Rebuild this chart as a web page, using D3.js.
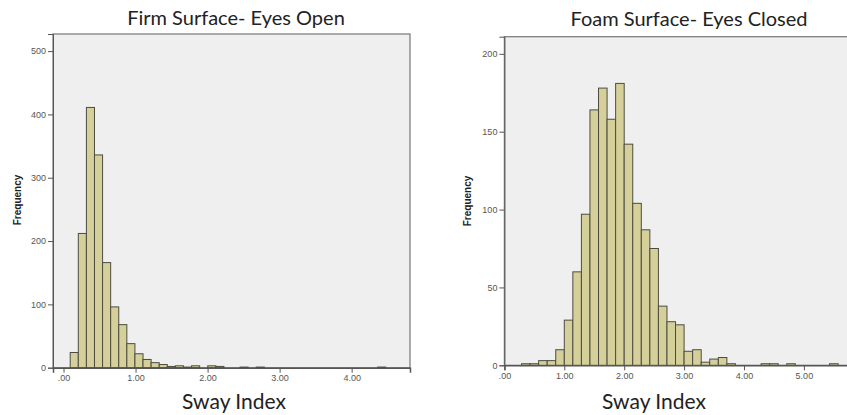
<!DOCTYPE html>
<html>
<head>
<meta charset="utf-8">
<script src="https://cdn.jsdelivr.net/npm/d3@7"></script>
<style>
  body { margin: 0; background: #fff; }
  .tick text { font-family: "Liberation Sans", Arial, sans-serif; font-size: 9px; fill: #555; }
  .title, .xlab { font-family: Lato, "Open Sans", sans-serif; fill: #222; }
  .ylab { font-family: "Liberation Sans", Arial, sans-serif; font-weight: bold; font-size: 10px; fill: #222; }
</style>
</head>
<body>
<svg id="chart" width="847" height="415"></svg>
<script>
// histogram counts
const firmCounts = [24, 212, 411, 336, 166, 96, 68, 38, 22, 13, 8, 5, 2, 3, 1, 3, 0, 3, 2, 0,
    0, 1, 0, 1, 0, 0, 0, 0, 0, 0, 0, 0, 0, 0, 0, 0, 0, 0, 1];
const firmBinStart = 0.093;
const firmBinWidth = 0.1123;
const firmYTicks = [0, 100, 200, 300, 400, 500];
const firmXTicks = [0, 1, 2, 3, 4];

const foamCounts = [1, 1, 3, 3, 10, 29, 60, 97, 164, 178, 158, 181, 142, 104, 87, 75, 38, 28, 26, 9,
    10, 2, 4, 5, 1, 0, 0, 0, 1, 1, 0, 1, 0, 0, 0, 0, 1];
const foamBinStart = 2 / 7;
const foamBinWidth = 1 / 7;
const foamYTicks = [0, 50, 100, 150, 200];
const foamXTicks = [0, 1, 2, 3, 4, 5];

const svg = d3.select("#chart");
const fmt = (d) => d3.format(".2f")(d).replace(/^0/, "");

function drawHist(o) {
    const x = d3.scaleLinear().domain(o.xDomain).range([o.left, o.right]);
    const y = d3.scaleLinear().domain(o.yDomain).range([o.bottom, o.top]);
    const g = svg.append("g");

    g.append("rect")
        .attr("x", o.left).attr("y", o.top)
        .attr("width", o.right - o.left).attr("height", o.bottom - o.top)
        .attr("fill", "#efefef")
        .attr("stroke", "#808080").attr("stroke-width", 1.3);

    const bins = o.counts.map((c, i) => ({
        x0: o.binStart + i * o.binWidth,
        x1: o.binStart + (i + 1) * o.binWidth,
        c: c
    })).filter((d) => d.c > 0);

    g.append("g").selectAll("rect")
        .data(bins)
        .enter().append("rect")
        .attr("x", (d) => x(d.x0))
        .attr("y", (d) => y(d.c))
        .attr("width", (d) => x(d.x1) - x(d.x0))
        .attr("height", (d) => o.bottom - y(d.c))
        .attr("fill", "#d5d09a")
        .attr("stroke", "#4d4c42")
        .attr("stroke-width", 1);

    const yAxis = d3.axisLeft(y).tickValues(o.yTicks).tickSize(5).tickPadding(2);
    g.append("g")
        .attr("transform", `translate(${o.left},0)`)
        .call(yAxis)
        .call((a) => a.select(".domain").attr("stroke", "#555"))
        .call((a) => a.selectAll(".tick line").attr("stroke", "#555"));

    const xAxis = d3.axisBottom(x).tickValues(o.xTicks).tickSize(5).tickPadding(2).tickFormat(fmt);
    g.append("g")
        .attr("transform", `translate(0,${o.bottom})`)
        .call(xAxis)
        .call((a) => a.select(".domain").attr("stroke", "#555").attr("stroke-width", 1.5))
        .call((a) => a.selectAll(".tick line").attr("stroke", "#555"));

    g.append("text")
        .attr("class", "ylab")
        .attr("transform", `translate(${o.yLabX},${o.yLabY}) rotate(-90)`)
        .attr("text-anchor", "middle")
        .text("Frequency");

    g.append("text")
        .attr("class", "title")
        .attr("x", o.titleX).attr("y", o.titleY)
        .attr("text-anchor", "middle")
        .style("font-size", "20px")
        .text(o.title);

    g.append("text")
        .attr("class", "xlab")
        .attr("x", o.xLabX).attr("y", 409)
        .attr("text-anchor", "middle")
        .style("font-size", "21px")
        .text("Sway Index");
}

drawHist({
    counts: firmCounts, binStart: firmBinStart, binWidth: firmBinWidth,
    yTicks: firmYTicks, xTicks: firmXTicks,
    xDomain: [-0.146, 4.81], yDomain: [0, 527],
    left: 53, right: 410, top: 34, bottom: 367.7,
    title: "Firm Surface- Eyes Open", titleX: 236, titleY: 25,
    xLabX: 234, yLabX: 21, yLabY: 200
});

drawHist({
    counts: foamCounts, binStart: foamBinStart, binWidth: foamBinWidth,
    yTicks: foamYTicks, xTicks: foamXTicks,
    xDomain: [0, 5.77], yDomain: [0, 211],
    left: 504.4, right: 850, top: 36.7, bottom: 365.3,
    title: "Foam Surface- Eyes Closed", titleX: 689, titleY: 26,
    xLabX: 654, yLabX: 471, yLabY: 201
});
</script>
</body>
</html>
